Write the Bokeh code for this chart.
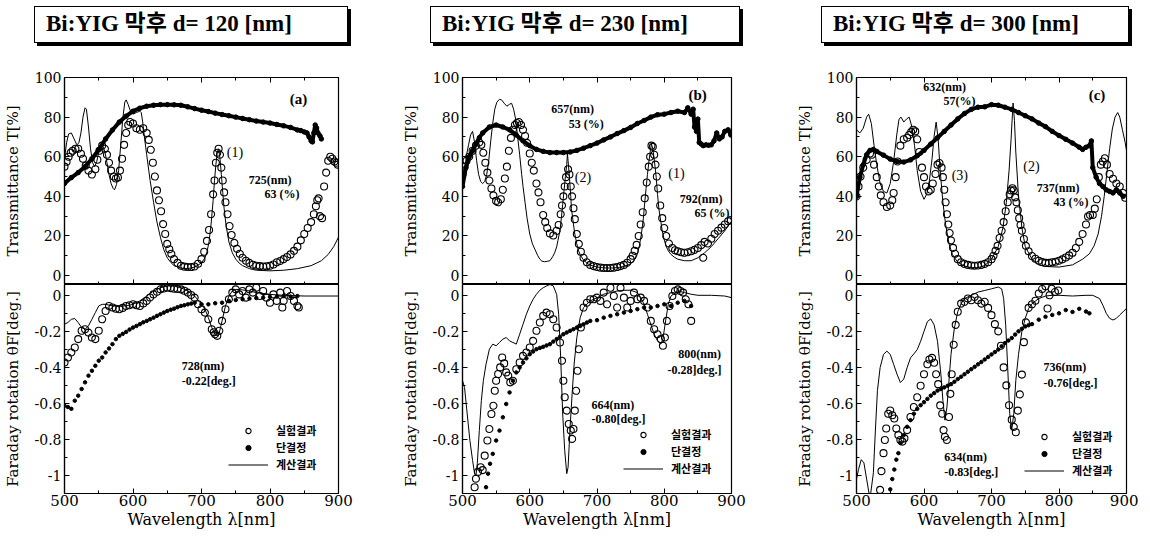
from bokeh.plotting import figure
from bokeh.layouts import row, column
from bokeh.models import (Range1d, FixedTicker, CustomJSTickFormatter, Label,
                          Legend, LegendItem, LinearAxis, Div)
from bokeh.embed import file_html
from bokeh.resources import INLINE

# ---------------- text ----------------
TITLES = ["Bi:YIG 막후 d= 120 [nm]", "Bi:YIG 막후 d= 230 [nm]", "Bi:YIG 막후 d= 300 [nm]"]
LEGEND_LABELS = ["실험결과", "단결정", "계산결과"]
X_LABEL = "Wavelength λ[nm]"
T_LABEL = "Transmittance T[%]"
F_LABEL = "Faraday rotation θF[deg.]"
X_TICKS = [500, 600, 700, 800, 900]
X_MINOR = [550, 650, 750, 850]
T_TICKS = [0, 20, 40, 60, 80, 100]
T_MINOR = [10, 30, 50, 70, 90]
F_TICKS = [-1.0, -0.8, -0.6, -0.4, -0.2, 0.0]
F_MINOR = [-0.9, -0.7, -0.5, -0.3, -0.1]

# ---------------- panel (a) d=120 nm ----------------
A_T_EXP = [(500,55),(503,57.5),(506,60),(509,62),(512,63),(516,64),(520,64),(524,61.5),(527,59),(531,55.5),(535,53),(540,51),(545,53.7),(548,58.5),(551,63),(555,65.6),(559,64),(562,61),(565,57),(568,53),(572,50),(575,49),(578,49.5),(581,53),(584,59),(587,66),(590,72),(593,76),(596,77.5),(600,76.8),(605,74.4),(610,73.6),(615,74.4),(620,72),(623,68.5),(626,63.5),(629,57),(632,50),(635,43),(638,38),(641,32.5),(644,26),(647,21),(650,16),(653,13.3),(656,11),(660,8.3),(665,6.4),(670,5),(675,4.5),(680,4.3),(685,4.3),(690,4.6),(695,6),(700,8.3),(704,12),(708,17.5),(711,23),(714,31),(717,41),(719,48),(721,57),(723,62),(725,64),(727,61),(729,54.5),(731,48),(733,42),(735,37),(738,31),(741,25),(744,20.5),(748,16.5),(752,13.5),(756,11),(760,9),(765,7.5),(770,6.4),(775,5.5),(780,5),(785,4.8),(790,4.6),(795,4.7),(800,5),(805,5.6),(810,6.7),(815,7.4),(820,8.3),(825,9.4),(830,10.7),(835,12.5),(840,14.6),(845,17.8),(850,21),(855,24),(860,27),(864,31),(867,35),(869,38),(871,39),(873,30),(876,29),(879,45),(882,52),(885,58),(888,60),(891,59),(894,57.6),(897,57),(899,56)]
A_T_SC = [(500,46.5),(510,49.5),(520,52),(530,55),(540,59),(550,63.5),(560,69),(570,73.5),(580,77.5),(590,80.5),(600,83),(610,84.5),(620,85.5),(630,86),(640,86.3),(650,86.3),(660,86.2),(670,86),(680,85.2),(690,84.3),(700,83.5),(710,82.8),(720,82),(730,81.3),(740,80.7),(750,80),(760,79.3),(770,78.7),(780,78),(790,77.5),(800,77),(810,76.3),(820,75.6),(830,74.8),(840,73.5),(845,73.2),(850,72.5),(854,72),(857,70),(860,68),(862,67.5),(864,72),(866,76),(868,74.5),(870,72),(873,70.5),(875,69)]
A_T_CALC = [(500,59),(503,67),(506,71.5),(510,72),(514,69),(518,66),(521,67),(524,72),(527,80),(530,84.7),(532,84),(535,75),(538,64),(541,57),(544,55),(547,57.5),(550,62.4),(553,65),(556,65.4),(559,62.5),(562,57),(565,51),(568,46.5),(571,44),(573,43.3),(576,46),(579,53),(582,65.6),(585,79),(588,87.5),(590,88.7),(593,86.3),(597,82.3),(600,81.5),(605,82.3),(610,83),(612,82.3),(614,78),(617,69),(620,61),(625,48),(630,37),(635,27),(640,19.4),(645,13),(650,9),(655,6.7),(660,5),(670,3.8),(680,3.5),(690,4.3),(700,6.4),(705,9),(708,12),(711,17),(714,26),(717,38),(719,48),(721,56),(723,62.4),(725,64),(727,59),(729,51),(731,42),(733,34),(736,25),(740,17),(745,11.5),(750,8.3),(755,6.3),(760,5),(770,3.5),(780,2.7),(800,2.4),(820,2.7),(840,3.5),(860,5),(875,7.5),(885,10.7),(893,14.6),(900,19.4)]
A_F_EXP = [(500,-0.373),(505,-0.345),(510,-0.317),(515,-0.29),(520,-0.243),(525,-0.197),(530,-0.188),(535,-0.207),(540,-0.234),(545,-0.243),(550,-0.197),(555,-0.133),(560,-0.087),(565,-0.059),(570,-0.068),(575,-0.075),(580,-0.077),(585,-0.07),(590,-0.059),(595,-0.055),(600,-0.05),(605,-0.055),(610,-0.059),(615,-0.045),(620,-0.031),(625,-0.012),(630,0.005),(635,0.02),(640,0.033),(645,0.038),(650,0.042),(655,0.04),(660,0.037),(665,0.035),(670,0.033),(675,0.025),(680,0.015),(685,0.002),(690,-0.013),(695,-0.05),(700,-0.077),(705,-0.096),(710,-0.133),(715,-0.188),(718,-0.205),(720,-0.216),(723,-0.225),(726,-0.197),(730,-0.142),(735,-0.077),(740,-0.022),(745,0.015),(750,0.033),(755,0.005),(760,0.024),(765,-0.013),(770,0.033),(775,0.015),(780,0.042),(785,-0.004),(790,0.024),(795,-0.013),(800,-0.041),(805,0.005),(810,-0.031),(815,0.015),(818,-0.068),(820,-0.031),(825,0.024),(830,-0.004),(835,-0.031),(840,-0.059),(842,-0.068)]
A_F_SC = [(500,-0.613),(505,-0.62),(510,-0.63),(515,-0.585),(520,-0.557),(525,-0.52),(530,-0.483),(535,-0.446),(540,-0.419),(545,-0.391),(550,-0.363),(555,-0.345),(560,-0.317),(565,-0.295),(570,-0.271),(575,-0.243),(580,-0.225),(585,-0.214),(590,-0.203),(595,-0.19),(600,-0.179),(605,-0.17),(610,-0.16),(615,-0.15),(620,-0.142),(625,-0.133),(630,-0.124),(635,-0.114),(640,-0.105),(645,-0.096),(650,-0.087),(655,-0.08),(660,-0.074),(665,-0.066),(670,-0.059),(675,-0.055),(680,-0.05),(685,-0.046),(690,-0.041),(700,-0.05),(710,-0.05),(720,-0.044),(730,-0.041),(740,-0.031),(750,-0.026),(760,-0.022),(770,-0.018),(780,-0.015),(790,-0.013),(800,-0.009),(810,-0.007),(820,-0.004),(830,-0.007),(840,-0.004)]
A_F_CALC = [(500,-0.16),(505,-0.151),(510,-0.133),(515,-0.129),(520,-0.151),(525,-0.179),(530,-0.188),(535,-0.17),(540,-0.133),(545,-0.096),(550,-0.059),(555,-0.05),(560,-0.05),(570,-0.059),(580,-0.059),(590,-0.059),(600,-0.05),(610,-0.031),(620,-0.004),(630,0.024),(640,0.042),(650,0.052),(660,0.052),(670,0.042),(680,0.024),(690,-0.004),(700,-0.05),(705,-0.077),(710,-0.124),(715,-0.179),(720,-0.216),(723,-0.225),(726,-0.207),(730,-0.142),(735,-0.059),(740,-0.004),(745,0.024),(750,0.033),(760,0.03),(770,0.024),(780,0.015),(800,0.005),(820,0.0),(850,-0.004),(900,-0.004)]

# ---------------- panel (b) d=230 nm ----------------
B_T_EXP = [(500,51),(503,55),(506,58),(510,60),(515,63),(520,65.6),(525,67.2),(528,66),(531,62),(534,57),(537,52),(540,48),(543,44),(546,40.5),(550,37.7),(553,37),(557,38.5),(560,43.3),(563,49),(566,55),(569,63),(572,69.5),(575,73.6),(578,76),(581,77),(584,77.5),(587,76),(590,73.6),(593,70.5),(596,67),(600,61.6),(603,57),(606,53),(610,46.5),(613,42),(616,37),(620,30.6),(623,27),(626,24),(630,21.3),(635,20.2),(640,22.6),(643,25.5),(646,31),(648,35.4),(650,40),(652,45),(654,49.7),(657,53.7),(659,51),(661,45),(663,40),(665,34),(667,28.5),(670,21),(673,16),(676,12),(680,9),(685,6.7),(690,5.4),(695,4.8),(700,4.3),(705,4),(710,3.8),(715,3.8),(720,3.8),(725,4),(730,4.3),(735,4.8),(740,5.4),(745,6.5),(750,8.3),(753,10),(756,12.5),(759,15.5),(762,20),(765,25.8),(768,32),(771,39),(774,47),(777,55),(779,60),(781,65.6),(783,65),(785,61),(787,56),(789,50),(791,44),(794,35.4),(797,29),(800,24),(803,20),(807,16.2),(812,13.9),(816,12.8),(820,12.3),(825,11.8),(830,11.5),(835,11.8),(840,12.3),(845,13),(850,13.9),(855,15.4),(858,9),(860,17),(865,16.2),(870,18.6),(875,21),(880,22.6),(885,24.2),(890,25.8),(895,27.4),(899,28)]
B_T_SC = [(500,45),(505,54.5),(510,60),(515,63),(520,66.4),(525,69.6),(530,72),(540,75),(550,76),(560,75),(570,73.6),(580,71),(590,68),(600,65.6),(610,63.7),(620,62.7),(630,62.1),(640,62.1),(650,62.1),(660,62.4),(670,63.2),(680,64.3),(690,65.6),(700,66.9),(710,68.5),(720,70),(730,71.7),(740,73.2),(750,74.8),(760,76.8),(770,78.3),(780,80),(790,81.2),(800,81.5),(810,82.3),(820,83),(830,82.3),(835,84.7),(840,81.5),(843,84),(845,75),(848,72.8),(850,79),(852,67.2),(855,66.4),(858,65.6),(862,66),(866,65.8),(870,66),(874,68),(878,72),(882,69),(886,70),(890,72.8),(895,73.6),(899,71)]
B_T_CALC = [(500,43.3),(503,52),(506,61),(509,66),(512,71),(515,72.8),(518,67.2),(521,58),(524,51),(527,47.5),(530,46.5),(533,47.5),(536,51),(539,58),(542,68),(545,77),(548,84),(551,87.5),(555,89),(558,88.7),(562,87),(566,85.5),(570,86.5),(573,87),(576,84),(579,79),(582,70),(585,61),(588,51),(590,45),(593,37),(596,29),(600,21),(604,16),(608,13),(612,10),(615,8.3),(618,7.3),(622,7),(626,7.2),(630,7.5),(634,9.5),(637,11.5),(640,14.5),(642,17.8),(645,23),(647,29),(649,36),(651,43),(653,50),(655,56),(656,61.6),(657,58),(659,49.7),(661,40),(662,33.8),(665,26),(667,21),(670,16),(672,13),(675,10.5),(679,8.3),(684,6.5),(689,5.4),(700,4.3),(710,3.9),(720,3.8),(730,4),(740,4.6),(745,5.2),(750,6),(755,7.5),(760,10.7),(763,15),(766,21),(769,29),(771,37),(773,44),(775,51),(777,57),(779,62.4),(781,66.4),(783,64),(785,59),(788,49.7),(790,41),(792,33.8),(795,27),(797,22.6),(800,18),(803,14.6),(806,12.5),(810,10.7),(815,9.3),(820,8.3),(830,7.5),(840,7.5),(850,9),(860,11.5),(870,14.6),(880,18.6),(890,22.6),(900,27.4)]
B_F_EXP = [(518,-1.065),(520,-1.018),(523,-0.98),(527,-0.954),(530,-0.97),(533,-0.89),(537,-0.806),(540,-0.742),(543,-0.659),(546,-0.613),(548,-0.53),(550,-0.474),(553,-0.437),(556,-0.4),(559,-0.345),(562,-0.378),(565,-0.428),(568,-0.446),(571,-0.483),(575,-0.474),(580,-0.41),(585,-0.373),(590,-0.336),(595,-0.317),(600,-0.29),(605,-0.253),(610,-0.197),(615,-0.151),(620,-0.114),(625,-0.096),(630,-0.105),(635,-0.133),(640,-0.179),(645,-0.262),(648,-0.363),(650,-0.474),(652,-0.566),(655,-0.64),(658,-0.714),(661,-0.75),(663,-0.797),(665,-0.742),(667,-0.64),(669,-0.53),(671,-0.419),(673,-0.299),(676,-0.179),(680,-0.068),(685,-0.041),(690,-0.022),(695,-0.022),(700,-0.013),(705,-0.031),(710,0.015),(715,-0.05),(720,0.042),(725,-0.004),(730,-0.068),(735,0.042),(740,-0.013),(745,-0.068),(750,-0.031),(755,0.015),(760,-0.022),(765,-0.013),(770,-0.031),(775,-0.068),(780,-0.142),(785,-0.188),(790,-0.216),(795,-0.243),(798,-0.28),(801,-0.234),(804,-0.142),(808,-0.059),(812,-0.004),(816,0.024),(820,0.033),(824,0.024),(828,0.015),(832,-0.022),(836,-0.05),(840,-0.142)]
B_F_SC = [(535,-1.065),(538,-0.99),(541,-0.935),(545,-0.88),(550,-0.806),(555,-0.751),(560,-0.677),(565,-0.603),(570,-0.539),(575,-0.474),(580,-0.428),(585,-0.4),(590,-0.373),(595,-0.35),(600,-0.327),(605,-0.312),(610,-0.299),(615,-0.292),(620,-0.286),(625,-0.278),(630,-0.271),(635,-0.257),(640,-0.243),(645,-0.23),(650,-0.216),(655,-0.206),(660,-0.197),(665,-0.188),(670,-0.179),(675,-0.17),(680,-0.161),(685,-0.151),(690,-0.142),(700,-0.138),(710,-0.124),(720,-0.114),(730,-0.105),(740,-0.096),(750,-0.087),(760,-0.077),(770,-0.068),(780,-0.068),(790,-0.059),(800,-0.05),(810,-0.059),(820,-0.041),(830,-0.031),(840,-0.059)]
B_F_CALC = [(500,-0.474),(503,-0.511),(507,-0.659),(511,-0.806),(515,-0.917),(518,-0.99),(520,-1.0),(522,-0.935),(525,-0.751),(528,-0.585),(531,-0.474),(535,-0.382),(540,-0.299),(545,-0.271),(550,-0.28),(555,-0.262),(560,-0.243),(565,-0.234),(570,-0.253),(575,-0.262),(580,-0.271),(585,-0.216),(590,-0.161),(595,-0.105),(600,-0.059),(605,-0.022),(610,0.006),(615,0.028),(620,0.042),(625,0.052),(630,0.06),(635,0.052),(640,0.005),(643,-0.105),(646,-0.345),(649,-0.659),(652,-0.862),(655,-0.99),(657,-0.954),(660,-0.732),(663,-0.548),(666,-0.382),(670,-0.234),(675,-0.124),(680,-0.068),(690,-0.031),(700,-0.013),(710,0.006),(720,0.015),(730,0.024),(740,0.028),(750,0.028),(760,0.015),(765,-0.013),(770,-0.05),(775,-0.105),(780,-0.161),(785,-0.216),(790,-0.253),(795,-0.271),(798,-0.243),(802,-0.142),(806,-0.05),(810,-0.004),(820,0.024),(830,0.015),(840,0.006),(850,0.0),(870,0.0),(890,-0.004),(900,-0.013)]

# ---------------- panel (c) d=300 nm ----------------
C_T_EXP = [(500,40),(503,45),(506,50),(510,54.5),(515,58.4),(520,61.6),(523,61),(526,56),(530,49.7),(533,45),(536,40.5),(540,37),(545,34.6),(550,35.4),(553,38),(555,41.7),(558,49.7),(561,57.6),(565,65.6),(570,68.8),(575,69.6),(578,71),(581,72.5),(584,73.6),(587,72.8),(590,68.8),(593,62.4),(597,54.5),(600,49.7),(603,45),(607,42.5),(610,43.3),(613,46.5),(617,51.3),(620,56),(623,56.8),(626,54.5),(628,49.7),(630,43.3),(632,37),(634,31),(636,25.8),(638,21.5),(640,17.8),(643,14),(646,11),(650,8.3),(655,6.7),(660,5.9),(665,5.4),(670,5.1),(675,5),(680,5.1),(685,5.4),(690,5.9),(695,6.7),(700,8.3),(703,10),(706,12.5),(709,15),(712,19),(715,22.6),(718,27),(721,32.5),(724,37),(727,41),(729,43),(731,44.1),(733,43),(735,39.5),(737,37),(739,33),(741,29),(743,25.5),(745,22.6),(748,18.5),(751,15),(755,12.3),(760,9.9),(765,8.5),(770,7.5),(775,6.8),(780,6.4),(785,6.4),(790,6.7),(795,7),(800,7.5),(805,8.2),(810,9.1),(815,10.2),(820,11.5),(825,13.9),(830,17),(835,21),(840,25.8),(843,29.8),(846,30.6),(850,30.6),(853,33.8),(856,38.5),(859,49.7),(862,56),(865,57.6),(868,59.2),(871,56),(875,51.3),(880,48.9),(885,46.5),(890,45),(895,41.7),(898,39.3)]
C_T_SC = [(500,40),(505,49.7),(510,56),(515,61),(520,63.2),(525,63.7),(530,62.7),(540,60.8),(550,58.8),(560,57.6),(570,57.3),(580,58.4),(590,60.5),(600,63.2),(610,66.4),(620,69.6),(630,72.8),(640,76),(650,79.1),(660,81.8),(670,83.9),(680,85),(690,85.2),(700,86.3),(710,86),(720,85),(730,83.9),(740,82.3),(750,80.7),(760,79.1),(770,77),(780,75.2),(790,72.8),(800,70.7),(810,68.8),(820,66.9),(830,64.8),(835,63.7),(840,64.8),(845,65.6),(848,68),(850,54.5),(855,49.7),(860,46.5),(865,45),(870,43.3),(875,42.5),(880,41.7),(885,43.3),(890,41.7),(895,40)]
C_T_CALC = [(500,73.6),(505,72),(510,74.4),(515,80),(518,81.5),(522,76.8),(526,65.6),(530,56),(535,46.5),(540,42.5),(545,41.7),(550,46.5),(555,57.6),(560,72),(563,79),(566,80),(570,77.5),(574,79),(578,80),(582,75.2),(586,65.6),(590,52.9),(595,42.5),(600,38.5),(604,41),(608,48),(612,59.2),(615,70.4),(618,77.5),(621,68.8),(624,52.9),(628,37),(632,25.8),(637,16.2),(642,10.7),(650,6.7),(660,4.8),(670,4),(680,4),(690,5.1),(700,8.3),(710,14.6),(717,24.2),(722,37),(726,52.9),(729,68.8),(731,81.5),(732,87.1),(734,78.3),(736,62.4),(740,40),(745,24.2),(750,14.6),(760,8.3),(770,5.4),(780,4.6),(800,4.3),(820,5.4),(835,8.3),(845,11),(852,15),(858,21),(863,30),(867,40),(871,52),(875,64),(879,74),(883,80),(887,82.3),(890,80),(894,73.6),(898,67.2),(900,63.2)]
C_F_EXP = [(535,-1.08),(537,-0.976),(540,-0.876),(542,-0.803),(544,-0.739),(547,-0.657),(550,-0.639),(553,-0.666),(556,-0.684),(559,-0.739),(562,-0.776),(565,-0.803),(568,-0.812),(571,-0.794),(575,-0.748),(580,-0.675),(585,-0.62),(590,-0.566),(595,-0.502),(600,-0.438),(605,-0.383),(608,-0.356),(612,-0.347),(615,-0.374),(618,-0.438),(621,-0.493),(624,-0.611),(627,-0.657),(629,-0.748),(631,-0.785),(634,-0.803),(637,-0.675),(639,-0.547),(641,-0.438),(644,-0.274),(647,-0.164),(650,-0.091),(655,-0.046),(660,-0.036),(665,-0.018),(670,-0.027),(675,-0.009),(680,-0.027),(685,-0.046),(690,-0.036),(695,-0.07),(700,-0.11),(705,-0.16),(710,-0.2),(714,-0.28),(718,-0.4),(722,-0.5),(726,-0.61),(730,-0.69),(733,-0.73),(736,-0.76),(739,-0.64),(742,-0.55),(745,-0.44),(748,-0.26),(751,-0.15),(755,-0.07),(760,-0.05),(765,-0.03),(770,0.01),(775,0.035),(780,0.05),(783,-0.073),(786,0.0),(789,0.036),(794,0.018),(799,0.027)]
C_F_SC = [(550,-1.077),(553,-1.02),(556,-0.967),(559,-0.912),(562,-0.876),(565,-0.82),(570,-0.776),(575,-0.73),(580,-0.693),(585,-0.657),(590,-0.63),(595,-0.61),(600,-0.593),(605,-0.575),(610,-0.557),(615,-0.543),(620,-0.529),(625,-0.52),(630,-0.511),(635,-0.502),(640,-0.493),(645,-0.48),(650,-0.465),(655,-0.452),(660,-0.438),(665,-0.424),(670,-0.41),(675,-0.397),(680,-0.383),(685,-0.37),(690,-0.356),(695,-0.342),(700,-0.328),(705,-0.315),(710,-0.301),(715,-0.283),(720,-0.265),(725,-0.251),(730,-0.237),(735,-0.218),(740,-0.2),(745,-0.186),(750,-0.173),(755,-0.166),(760,-0.16),(770,-0.135),(780,-0.119),(790,-0.109),(800,-0.1),(810,-0.082),(820,-0.092),(830,-0.075),(840,-0.09),(845,-0.1)]
C_F_CALC = [(500,-1.02),(503,-0.967),(507,-0.912),(511,-0.93),(515,-1.02),(520,-1.13),(525,-0.985),(528,-0.748),(531,-0.529),(535,-0.401),(540,-0.328),(545,-0.31),(550,-0.328),(555,-0.383),(560,-0.438),(565,-0.484),(570,-0.465),(575,-0.401),(580,-0.347),(585,-0.325),(590,-0.301),(595,-0.255),(600,-0.2),(605,-0.146),(610,-0.131),(615,-0.164),(620,-0.255),(625,-0.438),(628,-0.584),(631,-0.693),(634,-0.62),(637,-0.474),(640,-0.328),(645,-0.182),(650,-0.091),(655,-0.046),(660,-0.018),(670,0.0),(680,0.018),(690,0.027),(700,0.036),(710,0.046),(715,0.036),(718,-0.018),(721,-0.164),(724,-0.401),(727,-0.657),(730,-0.748),(733,-0.657),(736,-0.474),(740,-0.328),(745,-0.2),(750,-0.128),(755,-0.073),(760,-0.046),(770,-0.018),(780,-0.004),(790,0.0),(800,0.0),(820,-0.004),(840,0.0),(850,0.0),(860,-0.018),(865,-0.055),(870,-0.1),(875,-0.128),(880,-0.137),(885,-0.128),(890,-0.109),(895,-0.091),(900,-0.073)]

# ---------------- annotations (data coordinates) ----------------
A_TOP_NOTES = [(829, 89, "(a)", 15, "bold"), (737, 62, "(1)", 14, "normal"), (769, 48.3, "725(nm)", 12, "bold"), (792, 41, "63 (%)", 12, "bold")]
A_BOT_NOTES = [(671, -0.39, "728(nm)", 12, "bold"), (671, -0.473, "-0.22[deg.]", 12, "bold")]
B_TOP_NOTES = [(836, 91, "(b)", 15, "bold"), (632, 84, "657(nm)", 12, "bold"), (658, 76.3, "53 (%)", 12, "bold"), (667, 49.3, "(2)", 14, "normal"), (806, 51.7, "(1)", 14, "normal"), (823, 38.6, "792(nm)", 12, "bold"), (845, 31.4, "65 (%)", 12, "bold")]
B_BOT_NOTES = [(692, -0.611, "664(nm)", 12, "bold"), (692, -0.689, "-0.80[deg.]", 12, "bold"), (821, -0.323, "800(nm)", 12, "bold"), (805, -0.412, "-0.28]deg.]", 12, "bold")]
C_TOP_NOTES = [(599, 95.3, "632(nm)", 12, "bold"), (629, 88, "57(%)", 12, "bold"), (844, 91.3, "(c)", 15, "bold"), (641, 50.7, "(3)", 14, "normal"), (747, 55, "(2)", 14, "normal"), (767, 44.4, "737(nm)", 12, "bold"), (792, 37.2, "43 (%)", 12, "bold")]
C_BOT_NOTES = [(777, -0.40, "736(nm)", 12, "bold"), (777, -0.484, "-0.76[deg.]", 12, "bold"), (630, -0.90, "634(nm)", 12, "bold"), (630, -0.983, "-0.83[deg.]", 12, "bold")]

SERIF = "'Liberation Serif', serif"
AXFONT = "DejaVu Serif"
KOR = "'Noto Sans CJK KR'"

# layout (pixels)
LEFT = [60, 104, 105]
FRAME_W = [274, 269, 270]
RIGHT = [20, 20, 12]
HEADER_H = 69
TOP_PAD = 8
TOP_H = 207
BOT_H = 209
BOX_X = [(34, 348), (72, 382), (70, 378)]
LEGEND_LOC = [(164, 21), (161, 17), (168, 15)]


def unzip(pairs):
    return [p[0] for p in pairs], [p[1] for p in pairs]


def style_axis(ax, size):
    ax.axis_line_color = "black"
    ax.axis_line_width = 1.2
    ax.major_tick_line_color = "black"
    ax.minor_tick_line_color = "black"
    ax.major_tick_in = 5
    ax.major_tick_out = 0
    ax.minor_tick_in = 3
    ax.minor_tick_out = 0
    ax.major_label_text_font = AXFONT
    ax.major_label_text_font_size = size
    ax.major_label_text_color = "black"
    ax.axis_label_text_font = AXFONT
    ax.axis_label_text_font_style = "normal"
    ax.axis_label_text_color = "black"
    ax.axis_label_text_font_size = "15px"


def blank_x_axis():
    ax = LinearAxis(ticker=FixedTicker(ticks=X_TICKS, minor_ticks=X_MINOR))
    style_axis(ax, "0px")
    ax.major_label_standoff = 0
    ax.major_label_text_alpha = 0
    return ax


def add_notes(p, notes):
    for x, y, txt, fs, st in notes:
        p.add_layout(Label(x=x, y=y, text=txt, text_font=SERIF, text_font_size=f"{fs}px",
                           text_font_style=st, text_color="black", text_baseline="middle",
                           text_align="left"))


def make_header(i, W):
    bx0, bx1 = BOX_X[i]
    html = (
        f'<div style="position:relative; left:{bx0}px; top:6px; width:{bx1 - bx0}px; height:37px; '
        'box-sizing:border-box; border:1.5px solid black; box-shadow:3px 3px 0 0 black; '
        'background:white; padding-left:11px; line-height:34px; white-space:nowrap; '
        "font-family:'Liberation Serif','Noto Sans CJK KR',serif; font-weight:bold; "
        f'font-size:23px; color:black;">{TITLES[i]}</div>'
    )
    return Div(text=html, width=W, height=HEADER_H, margin=0)


def make_panel(i, t_exp, t_sc, t_calc, f_exp, f_sc, f_calc, top_notes, bot_notes):
    L, FW, R = LEFT[i], FRAME_W[i], RIGHT[i]
    W = L + FW + R

    h = make_header(i, W)

    # transmittance
    t = figure(frame_width=FW, frame_height=TOP_H, x_range=Range1d(500, 900), y_range=Range1d(-4.5, 100),
               min_border_left=L, min_border_right=R, min_border_top=TOP_PAD, min_border_bottom=0,
               toolbar_location=None, output_backend="svg", x_axis_location=None)
    t.grid.visible = False
    t.outline_line_color = "black"
    t.outline_line_width = 1.2
    t.yaxis.ticker = FixedTicker(ticks=T_TICKS, minor_ticks=T_MINOR)
    style_axis(t.yaxis[0], "14px")
    t.yaxis.axis_label = T_LABEL
    t.yaxis.major_label_standoff = 3
    t.yaxis.axis_label_standoff = 10
    t.add_layout(blank_x_axis(), "below")
    t.add_layout(blank_x_axis(), "above")

    x, y = unzip(t_calc)
    t.line(x, y, line_color="black", line_width=1)
    x, y = unzip(t_sc)
    t.line(x, y, line_color="black", line_width=4)
    t.scatter(x, y, marker="circle", size=4.5, fill_color="black", line_color="black")
    x, y = unzip(t_exp)
    t.scatter(x, y, marker="circle", size=7, fill_color=None, line_color="black", line_width=1.1)
    add_notes(t, top_notes)

    # Faraday rotation
    b = figure(frame_width=FW, frame_height=BOT_H, x_range=t.x_range, y_range=Range1d(-1.1, 0.06),
               min_border_left=L, min_border_right=R, min_border_top=0, min_border_bottom=0,
               toolbar_location=None, output_backend="svg")
    b.grid.visible = False
    b.outline_line_color = "black"
    b.outline_line_width = 1.2
    b.xaxis.ticker = FixedTicker(ticks=X_TICKS, minor_ticks=X_MINOR)
    style_axis(b.xaxis[0], "15px")
    b.xaxis.axis_label = X_LABEL
    b.xaxis.axis_label_text_font_size = "16px"
    b.xaxis.major_label_standoff = 1
    b.xaxis.axis_label_standoff = 1
    b.yaxis.ticker = FixedTicker(ticks=F_TICKS, minor_ticks=F_MINOR)
    b.yaxis.formatter = CustomJSTickFormatter(code="""
        if (Math.abs(tick) < 1e-9) return "0";
        if (Math.abs(tick + 1) < 1e-9) return "-1";
        return tick.toFixed(1);""")
    style_axis(b.yaxis[0], "14px")
    b.yaxis.axis_label = F_LABEL
    b.yaxis.major_label_standoff = 3
    b.yaxis.axis_label_standoff = 10

    x, y = unzip(f_calc)
    r_calc = b.line(x, y, line_color="black", line_width=1)
    x, y = unzip(f_sc)
    r_sc = b.scatter(x, y, marker="circle", size=3.5, fill_color="black", line_color="black")
    x, y = unzip(f_exp)
    r_exp = b.scatter(x, y, marker="circle", size=7, fill_color=None, line_color="black", line_width=1.1)
    add_notes(b, bot_notes)

    leg = Legend(items=[LegendItem(label=LEGEND_LABELS[0], renderers=[r_exp]),
                        LegendItem(label=LEGEND_LABELS[1], renderers=[r_sc]),
                        LegendItem(label=LEGEND_LABELS[2], renderers=[r_calc])],
                 location=LEGEND_LOC[i], border_line_color=None, background_fill_alpha=0,
                 padding=0, margin=0, spacing=1, glyph_width=40, glyph_height=13,
                 label_height=13, label_standoff=8, label_text_font=KOR,
                 label_text_font_size="11px", label_text_font_style="bold",
                 label_text_color="black")
    b.add_layout(leg)

    return column(h, t, b, spacing=0)


pa = make_panel(0, A_T_EXP, A_T_SC, A_T_CALC, A_F_EXP, A_F_SC, A_F_CALC, A_TOP_NOTES, A_BOT_NOTES)
pb = make_panel(1, B_T_EXP, B_T_SC, B_T_CALC, B_F_EXP, B_F_SC, B_F_CALC, B_TOP_NOTES, B_BOT_NOTES)
pc = make_panel(2, C_T_EXP, C_T_SC, C_T_CALC, C_F_EXP, C_F_SC, C_F_CALC, C_TOP_NOTES, C_BOT_NOTES)

layout = row(pa, pb, pc, spacing=0)
open("out.html", "w").write(file_html(layout, INLINE))
